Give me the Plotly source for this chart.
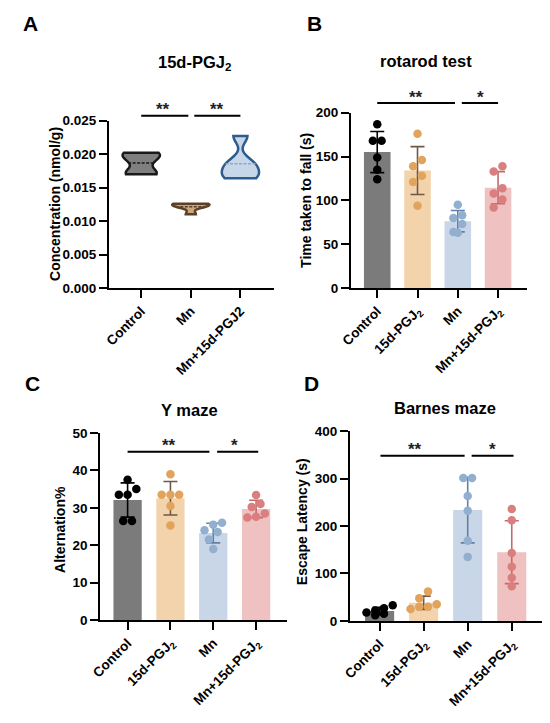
import numpy as np
import plotly.graph_objects as go

W, H = 550, 723
FONT = "Liberation Sans, Arial, sans-serif"

groups = ["Control", "15d-PGJ<sub>2</sub>", "Mn", "Mn+15d-PGJ<sub>2</sub>"]
groups_a = ["Control", "Mn", "Mn+15d-PGJ2"]

# A: 15d-PGJ2 concentration (nmol/g)
conc_control = [0.0170, 0.0172, 0.0190, 0.0200, 0.0202]
conc_mn = [0.0110, 0.0122, 0.0124, 0.0125, 0.0126]
conc_mn_pgj = [0.0164, 0.0168, 0.0180, 0.0188, 0.0227]
ticks_a = [0, 0.005, 0.010, 0.015, 0.020, 0.025]

# B: rotarod, time taken to fall (s)
rot_control = [187, 168, 168, 149, 135, 124]
rot_pgj = [176, 146, 139, 128, 121, 94]
rot_mn = [95, 83, 80, 73, 64, 63]
rot_mn_pgj = [139, 133, 114, 108, 101, 92]

# C: Y maze, alternation %
ym_control = [37.5, 35, 33.5, 33.5, 26.5, 26.5]
ym_pgj = [39, 33.5, 33.5, 33.5, 30.5, 25.3]
ym_mn = [26, 25.5, 24, 23.5, 21.5, 19]
ym_mn_pgj = [33.4, 31, 30.2, 28.5, 27.6, 27.4]

# D: Barnes maze, escape latency (s)
bm_control = [33, 27, 22, 18, 15, 12]
bm_pgj = [62, 48, 35, 30, 30, 25]
bm_mn = [301, 301, 263, 232, 169, 135]
bm_mn_pgj = [236, 212, 143, 114, 91, 73]

bar_colors = ["#7b7b7b", "#f2d3ab", "#c8d6e7", "#efc1c1"]
dot_colors = ["#000000", "#e2a45c", "#93afd0", "#d97f7f"]
err_colors = ["#000000", "#6e5848", "#5f80a8", "#c46a6a"]

# panel geometry in pixels: (left, right), (top, bottom)
panels = {
    "A": dict(ax="", xpx=(100, 268), ypx=(116, 287), xr=(-0.65, 2.67), yr=(0, 0.025),
              title="15d-PGJ<sub>2</sub>", tpos=(187, 57), ytitle="Concentration (nmol/g)",
              ypos=(45, 201), letter_pos=(20, 17),
              sig=[(0, 0.95, 0.43, "**"), (1.07, 2.0, 1.53, "**")], sig_y=0.02573),
    "B": dict(ax="2", xpx=(347, 527), ypx=(108, 287), xr=(-0.65, 3.73), yr=(0, 200),
              title="rotarod test", tpos=(423, 55), ytitle="Time taken to fall (s)",
              ypos=(301, 197), letter_pos=(310, 17),
              sig=[(0, 1.93, 0.95, "**"), (2.1, 3.0, 2.56, "*")], sig_y=211),
    "C": dict(ax="3", xpx=(91, 282), ypx=(435, 626), xr=(-0.64, 3.73), yr=(0, 50),
              title="Y maze", tpos=(182, 412), ytitle="Alternation%",
              ypos=(50, 534), letter_pos=(22, 384),
              sig=[(0, 1.91, 0.97, "**"), (2.09, 3.05, 2.5, "*")], sig_y=45),
    "D": dict(ax="4", xpx=(346, 542), ypx=(433, 627), xr=(-0.67, 3.69), yr=(0, 400),
              title="Barnes maze", tpos=(443, 410), ytitle="Escape Latency (s)",
              ypos=(297, 526), letter_pos=(307, 384),
              sig=[(0.02, 1.93, 0.8, "**"), (2.09, 3.04, 2.56, "*")], sig_y=348),
}


def px_x(x):
    return x / W


def px_y(y):
    return 1 - y / H


def y_paper(p, v):
    top, bot = p["ypx"]
    r0, r1 = p["yr"]
    return px_y(bot - (v - r0) / (r1 - r0) * (bot - top))


def swarm(vals, p, d=8.5):
    # spread points that sit at nearly the same height, like Prism's scatter
    y_px = (p["ypx"][1] - p["ypx"][0]) / (p["yr"][1] - p["yr"][0])
    x_px = (p["xpx"][1] - p["xpx"][0]) / (p["xr"][1] - p["xr"][0])
    order = sorted(range(len(vals)), key=lambda i: -vals[i])
    rows = []
    for i in order:
        if rows and (vals[rows[-1][0]] - vals[i]) * y_px < d:
            rows[-1].append(i)
        else:
            rows.append([i])
    off = [0.0] * len(vals)
    for r in rows:
        r = sorted(r, key=lambda i: vals[i])
        n = len(r)
        for k, i in enumerate(r):
            off[i] = (k - (n - 1) / 2) * d * 1.05 / x_px
    return off


fig = go.Figure()

# A: violins
violin_style = [
    ("#7f7f7f", "#1a1a1a", "#1a1a1a", 0.0008),
    ("#caa87e", "#5c4128", "#5c4128", 0.0004),
    ("#c7d6e9", "#2d5d8f", "#8fa8c4", 0.0010),
]
for i, (vals, (fill, line, mid, bw)) in enumerate(zip([conc_control, conc_mn, conc_mn_pgj], violin_style)):
    fig.add_trace(go.Violin(
        x=[i] * len(vals), y=vals, xaxis="x", yaxis="y",
        fillcolor=fill, line=dict(color=line, width=2.5),
        points=False, spanmode="hard", bandwidth=bw, width=0.75, scalemode="width",
        meanline=dict(visible=True, color=mid, width=1.5), showlegend=False, hoverinfo="skip",
    ))

# B-D: bars + SD + dots
for key, data in [("B", [rot_control, rot_pgj, rot_mn, rot_mn_pgj]),
                  ("C", [ym_control, ym_pgj, ym_mn, ym_mn_pgj]),
                  ("D", [bm_control, bm_pgj, bm_mn, bm_mn_pgj])]:
    p = panels[key]
    xa, ya = "x" + p["ax"], "y" + p["ax"]
    means = [float(np.mean(v)) for v in data]
    sds = [float(np.std(v, ddof=1)) for v in data]
    fig.add_trace(go.Bar(
        x=list(range(4)), y=means, width=0.66, marker=dict(color=bar_colors, line=dict(width=0)),
        xaxis=xa, yaxis=ya, showlegend=False, hoverinfo="skip",
    ))
    for i in range(4):
        fig.add_trace(go.Scatter(
            x=[i], y=[means[i]], mode="markers", marker=dict(size=1, opacity=0),
            error_y=dict(type="data", array=[sds[i]], color=err_colors[i], thickness=1.6, width=7),
            xaxis=xa, yaxis=ya, showlegend=False, hoverinfo="skip",
        ))
    for i, vals in enumerate(data):
        off = swarm(vals, p)
        fig.add_trace(go.Scatter(
            x=[i + o for o in off], y=vals, mode="markers",
            marker=dict(size=8.5, color=dot_colors[i], line=dict(width=0)),
            cliponaxis=False, xaxis=xa, yaxis=ya, showlegend=False, hoverinfo="skip",
        ))

axis_common = dict(
    showline=True, linewidth=2, linecolor="black", ticks="outside", ticklen=8,
    tickwidth=2, tickcolor="black", showgrid=False, zeroline=False,
    tickfont=dict(family=FONT, size=13.5, color="black", weight="bold"), fixedrange=True,
)

layout = dict(
    width=W, height=H, margin=dict(l=0, r=0, t=0, b=0),
    paper_bgcolor="white", plot_bgcolor="white", violinmode="overlay",
    font=dict(family=FONT, color="black"),
)
shapes, annotations = [], []
for key, p in panels.items():
    n = 3 if key == "A" else 4
    xdom = [px_x(p["xpx"][0]), px_x(p["xpx"][1])]
    ydom = [px_y(p["ypx"][1]), px_y(p["ypx"][0])]
    layout["xaxis" + p["ax"]] = dict(
        axis_common, domain=xdom, range=list(p["xr"]), anchor="y" + p["ax"],
        tickvals=list(range(n)), ticktext=groups_a if key == "A" else groups, tickangle=-45,
    )
    yaxis = dict(axis_common, domain=ydom, range=list(p["yr"]), anchor="x" + p["ax"])
    if key == "A":
        yaxis.update(tickvals=ticks_a, tickformat=".3f")
    else:
        yaxis.update(dtick=10 if key == "C" else p["yr"][1] / 4)
    layout["yaxis" + p["ax"]] = yaxis

    yline = y_paper(p, p["sig_y"])
    for x0, x1, xs, txt in p["sig"]:
        shapes.append(dict(type="line", xref="x" + p["ax"], yref="paper", x0=x0, x1=x1,
                           y0=yline, y1=yline, line=dict(color="black", width=2)))
        annotations.append(dict(xref="x" + p["ax"], yref="paper", x=xs, y=yline + 6 / H,
                                text=txt, showarrow=False, xanchor="center", yanchor="middle",
                                font=dict(family=FONT, size=17, color="#222", weight="bold")))

    annotations.append(dict(xref="paper", yref="paper", x=px_x(p["tpos"][0]), y=px_y(p["tpos"][1]),
                            text=p["title"], showarrow=False, xanchor="center", yanchor="middle",
                            font=dict(family=FONT, size=16.5, color="black", weight="bold")))
    annotations.append(dict(xref="paper", yref="paper", x=px_x(p["ypos"][0]), y=px_y(p["ypos"][1]),
                            text=p["ytitle"], showarrow=False, textangle=-90,
                            xanchor="center", yanchor="middle",
                            font=dict(family=FONT, size=14, color="black", weight="bold")))
    annotations.append(dict(xref="paper", yref="paper", x=px_x(p["letter_pos"][0]),
                            y=px_y(p["letter_pos"][1]), text=key, showarrow=False,
                            xanchor="center", yanchor="middle",
                            font=dict(family=FONT, size=21, color="black", weight="bold")))

layout["shapes"] = shapes
layout["annotations"] = annotations
fig.update_layout(**layout)
fig.write_html("out.html", config={"displayModeBar": False},
               post_script="document.body.style.margin='0';")
